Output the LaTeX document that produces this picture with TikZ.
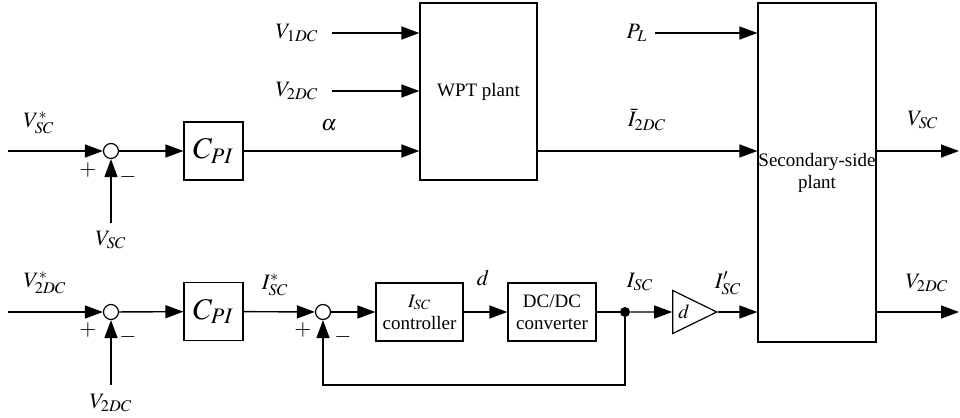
\documentclass[tikz,border=0pt]{standalone}
\usepackage{mathptmx}
\usepackage{fontspec}
\setmainfont{Liberation Serif}
\usetikzlibrary{arrows.meta,positioning,shapes.geometric}

\begin{document}
\begin{tikzpicture}[x=0.5pt,y=-0.5pt,
    blk/.style={draw,line width=0.6pt,inner sep=0pt,align=center,font=\rmfamily\fontsize{9.5}{11}\selectfont},
    sumc/.style={draw,circle,line width=0.6pt,minimum size=7.5pt,inner sep=0pt},
    a/.style={-{Triangle[length=9pt,width=6.5pt]},line width=0.7pt},
    ln/.style={line width=0.7pt},
    lbl/.style={font=\fontsize{11}{12}\selectfont,inner sep=1pt},
    sgn/.style={font=\fontsize{11}{12}\selectfont,inner sep=0pt}]
    \useasboundingbox (0,0) rectangle (960,418);
    % blocks
    \node[blk,minimum width=29.5pt,minimum height=29pt,font=\fontsize{15}{16}\selectfont] (cpiv) at (213.5,151) {$C_{PI}$};
    \node[blk,minimum width=29.5pt,minimum height=29pt,font=\fontsize{15}{16}\selectfont] (cpivb) at (213.5,311.5) {$C_{PI}$};
    \node[blk,minimum width=58.5pt,minimum height=88.5pt] (wpt) at (478.5,91.5) {WPT plant};
    \node[blk,minimum width=59pt,minimum height=169.5pt] (sec) at (817,172.5) {Secondary-side\\plant};
    \node[blk,minimum width=43.5pt,minimum height=29pt] (ictrl) at (419.5,312) {$I_{SC}$\\controller};
    \node[blk,minimum width=44pt,minimum height=29pt] (dcdc) at (552,312) {DC/DC\\converter};
    \node[draw,isosceles triangle,isosceles triangle stretches,line width=0.6pt,inner sep=0pt,
      minimum width=21.5pt,minimum height=22pt,font=\fontsize{10}{12}\selectfont] (gain) at (684,312) {$d$};
    % summing points
    \node[sumc] (sumv) at (111,151) {};
    \node[sumc] (sumvb) at (111,312) {};
    \node[sumc] (sumi) at (323,312) {};
    \node[circle,fill,minimum size=5pt,inner sep=0pt] (dot) at (625,312) {};
    % free ends
    \coordinate (inv) at (8,151);
    \coordinate (invb) at (8,312);
    \coordinate (fbv) at (111,223);
    \coordinate (fbvb) at (111,385);
    \coordinate (fbi) at (323,385);
    \coordinate (v1) at (332,33);
    \coordinate (v2) at (332,91);
    \coordinate (pl) at (655,33);
    \coordinate (outv) at (959,151);
    \coordinate (outvb) at (959,312);
    % connectors
    \draw[a] (inv) -- (sumv);
    \draw[a] (fbv) -- (sumv);
    \draw[a] (sumv) -- (cpiv);
    \draw[a] (cpiv) -- (cpiv -| wpt.west);
    \draw[a] (v1) -- (v1 -| wpt.west);
    \draw[a] (v2) -- (v2 -| wpt.west);
    \draw[a] (wpt.east |- cpiv) -- (sec.west |- cpiv);
    \draw[a] (pl) -- (pl -| sec.west);
    \draw[a] (sec.east |- outv) -- (outv);
    \draw[a] (invb) -- (sumvb);
    \draw[a] (fbvb) -- (sumvb);
    \draw[a] (sumvb) -- (cpivb);
    \draw[a] (cpivb) -- (sumi);
    \draw[a] (sumi) -- (ictrl);
    \draw[a] (ictrl) -- (dcdc);
    \draw[ln] (dcdc) -- (dot);
    \draw[a] (dot) -- (gain.west);
    \draw[a] (gain.apex) -- (gain.apex -| sec.west);
    \draw[a] (dot) -- (dot |- fbi) -- (fbi) -- (sumi);
    \draw[a] (sec.east |- outvb) -- (outvb);
    % labels
    \node[lbl] (lvsr) at (39,123) {$V_{SC}^{*}$};
    \node[sgn] (pv) at (88,170) {$+$};
    \node[sgn] (mv) at (128,177) {$-$};
    \node[lbl] (lvs) at (111,240) {$V_{SC}$};
    \node[lbl] (lal) at (329,125) {$\alpha$};
    \node[lbl] (lv1) at (297,33) {$V_{1DC}$};
    \node[lbl] (lv2) at (297,91) {$V_{2DC}$};
    \node[lbl] (li2) at (647,120) {$\bar{I}_{2DC}$};
    \node[lbl] (lpl) at (637,33) {$P_{L}$};
    \node[lbl] (lvso) at (923,120) {$V_{SC}$};
    \node[lbl] (lvdr) at (45,283) {$V_{2DC}^{*}$};
    \node[sgn] (pvb) at (88,330) {$+$};
    \node[sgn] (mvb) at (128,337) {$-$};
    \node[lbl] (lvd) at (111,403) {$V_{2DC}$};
    \node[lbl] (lisr) at (275,285) {$I_{SC}^{*}$};
    \node[sgn] (pi) at (303,330) {$+$};
    \node[sgn] (mi) at (343,337) {$-$};
    \node[lbl] (ld) at (483,278) {$d$};
    \node[lbl] (lis) at (640,282) {$I_{SC}$};
    \node[lbl] (lisp) at (728,283) {$I_{SC}'$};
    \node[lbl] (lvdo) at (927,283) {$V_{2DC}$};
\end{tikzpicture}
\end{document}
